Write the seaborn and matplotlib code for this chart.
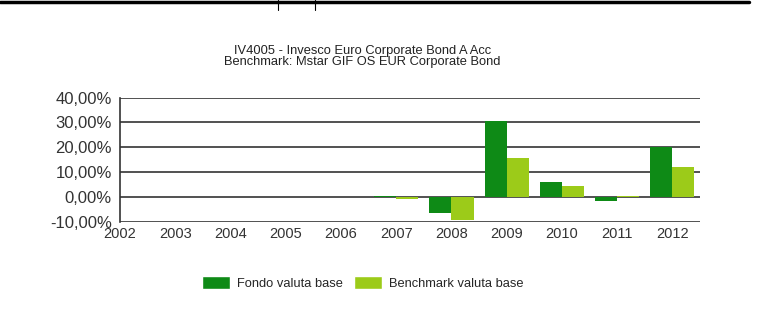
import matplotlib
matplotlib.use("Agg")
import matplotlib.pyplot as plt
from matplotlib.patches import Patch
import numpy as np
import pandas as pd
import seaborn as sns

# dati (rendimenti annui in %)
years = ["2002", "2003", "2004", "2005", "2006", "2007", "2008", "2009", "2010", "2011", "2012"]
fondo = [np.nan, np.nan, np.nan, np.nan, np.nan, 0.2, -6.4, 30.6, 6.2, -1.6, 20.2]
benchmark = [np.nan, np.nan, np.nan, np.nan, np.nan, -1.0, -9.4, 15.7, 4.3, 0.5, 12.1]
series_names = ["Fondo valuta base", "Benchmark valuta base"]
colors = ["#0E8A16", "#9CCB19"]
title = "IV4005 - Invesco Euro Corporate Bond A Acc\nBenchmark: Mstar GIF OS EUR Corporate Bond"

df = pd.DataFrame({
    "anno": years * 2,
    "valore": fondo + benchmark,
    "serie": [series_names[0]] * len(years) + [series_names[1]] * len(years),
})

sns.set_style("white")
plt.rcParams["font.family"] = ["Liberation Sans", "DejaVu Sans"]

fig = plt.figure(figsize=(7.6, 3.33), dpi=100)
ax = fig.add_axes([0.158, 0.334, 0.763, 0.373])

sns.barplot(data=df, x="anno", y="valore", hue="serie", order=years,
            hue_order=series_names, palette=colors, width=0.8,
            saturation=1, linewidth=0, ax=ax, legend=False)

ax.set_xlim(0, 10.5)
ax.set_ylim(-10, 40)
ax.set_yticks(np.arange(-10, 41, 10))
ax.set_yticklabels([f"{v:.2f}%".replace(".", ",") for v in np.arange(-10, 41, 10)],
                   fontsize=12, color="#333333")
ax.set_xticklabels(years, fontsize=10.5, color="#333333")
ax.set_xlabel("")
ax.set_ylabel("")

# griglia orizzontale
ax.set_axisbelow(True)
ax.yaxis.grid(True, color="#333333", linewidth=1.2)
ax.xaxis.grid(False)
for s in ["top", "right", "bottom"]:
    ax.spines[s].set_visible(False)
ax.spines["left"].set_color("#333333")
ax.spines["left"].set_linewidth(1.2)
ax.tick_params(axis="y", direction="out", length=4, width=1, color="#333333", pad=2)
ax.tick_params(axis="x", direction="in", length=3, width=1, color="#aaaaaa", pad=4)

fig.text(0.477, 0.83, title, ha="center", va="center", fontsize=9.3,
         color="#222222", linespacing=0.95)

# legenda
handles = [Patch(facecolor=c, label=n) for c, n in zip(colors, series_names)]
fig.legend(handles=handles, loc="center", bbox_to_anchor=(0.477, 0.15), ncol=2,
           frameon=False, fontsize=9.3, handlelength=2.2, handleheight=1.2,
           columnspacing=0.9, handletextpad=0.5)

# bordo superiore
fig.add_artist(plt.Line2D([0, 0.985], [0.995, 0.995], color="black", linewidth=2.5))
fig.add_artist(plt.Line2D([0.366, 0.366], [0.97, 1.0], color="black", linewidth=0.8))
fig.add_artist(plt.Line2D([0.414, 0.414], [0.97, 1.0], color="black", linewidth=0.8))

fig.savefig("out.png", dpi=100)
